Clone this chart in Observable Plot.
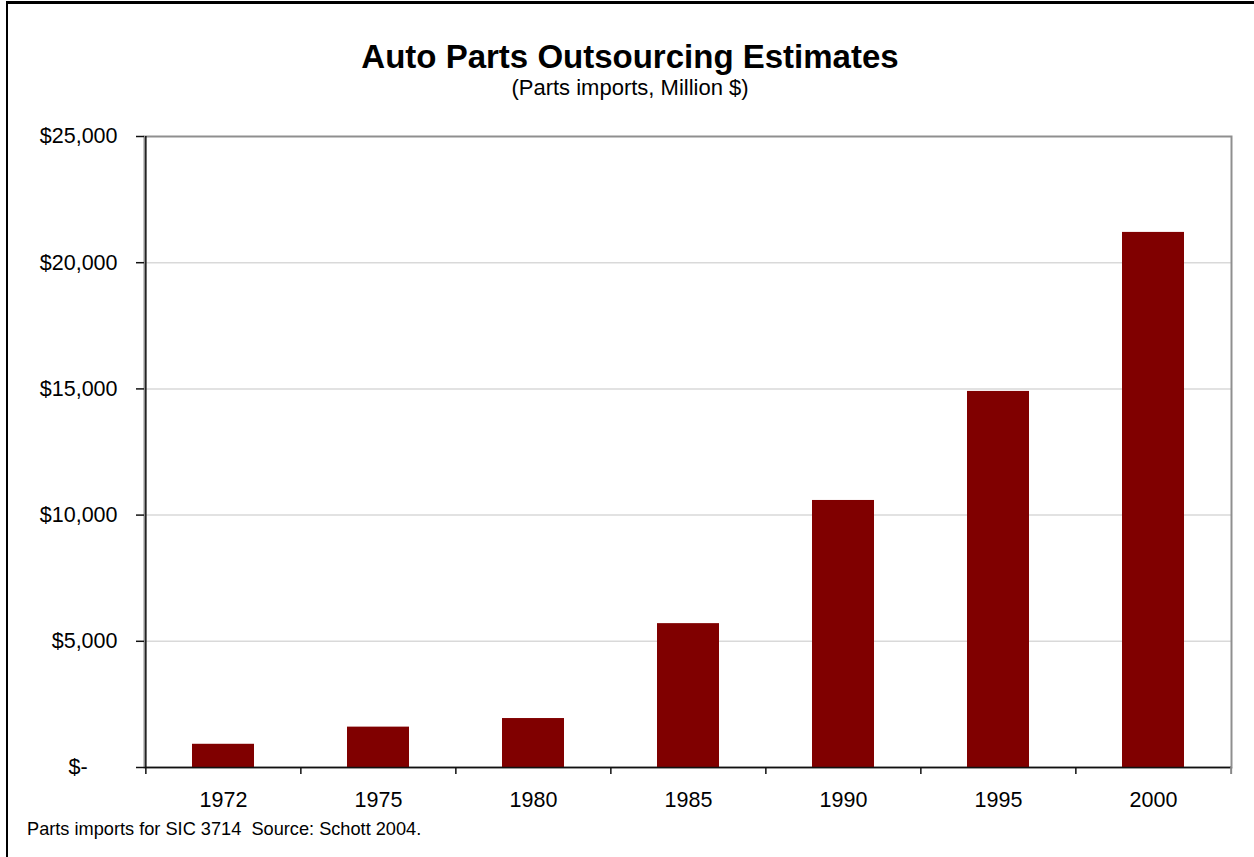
<!DOCTYPE html>
<html>
<head>
<meta charset="utf-8">
<script src="https://cdn.jsdelivr.net/npm/d3@7"></script>
<script src="https://cdn.jsdelivr.net/npm/@observablehq/plot@0.6"></script>
<style>
  html, body { margin: 0; padding: 0; background: #fff; }
  #wrap { position: relative; width: 1254px; height: 857px; overflow: hidden; font-family: "Liberation Sans", Arial, sans-serif; }
  #border { position: absolute; left: 6px; top: 1px; right: -10px; bottom: -10px; border-top: 3px solid #000; border-left: 2px solid #000; }
  .t { position: absolute; left: 0; width: 1260px; text-align: center; color: #000; white-space: pre; }
  #title { top: 40px; font-size: 33px; line-height: 33px; font-weight: bold; }
  #subtitle { top: 77px; font-size: 22px; line-height: 22px; }
  #caption { position: absolute; left: 27px; top: 820px; font-size: 18.2px; line-height: 18px; white-space: pre; color: #000; }
  svg { position: absolute; left: 0; top: 0; }
</style>
</head>
<body>
<div id="wrap">
  <div id="chart"></div>
  <div id="border"></div>
  <div id="title" class="t">Auto Parts Outsourcing Estimates</div>
  <div id="subtitle" class="t">(Parts imports, Million $)</div>
  <div id="caption">Parts imports for SIC 3714  Source: Schott 2004.</div>
</div>
<script>
const years = ["1972", "1975", "1980", "1985", "1990", "1995", "2000"];
const imports = [920, 1600, 1940, 5700, 10580, 14900, 21200];
const yTicks = [0, 5000, 10000, 15000, 20000, 25000];
const gridTicks = [5000, 10000, 15000, 20000];

const data = years.map((year, i) => ({year, value: imports[i]}));

const W = 1254, H = 857, mT = 136, mB = 90, mL = 144, mR = 23;
const plotH = H - mT - mB;
const C = (W - mL - mR) / years.length; // category width

const fmt = d => d === 0 ? "$-\u2007\u2007\u00a0" : "$" + d3.format(",")(d);

const chart = Plot.plot({
  width: W,
  height: H,
  marginTop: mT,
  marginBottom: mB,
  marginLeft: mL,
  marginRight: mR,
  style: {fontFamily: "Liberation Sans, Arial, sans-serif", fontSize: "21.5px", color: "#000", background: "transparent"},
  x: {domain: years, paddingInner: 0.6, paddingOuter: 0.3, label: null},
  y: {domain: [0, 25000], label: null},
  marks: [
    Plot.ruleY(gridTicks, {stroke: "#d9d9d9", strokeWidth: 1.5}),
    Plot.frame({stroke: "#8f8f8f", strokeWidth: 2}),
    Plot.barY(data, {x: "year", y: "value", fill: "#800000"}),
    Plot.ruleY([0], {stroke: "#111", strokeWidth: 1.5}),
    Plot.ruleX([years[0]], {x: d => d, dx: -C / 2, stroke: "#111", strokeWidth: 1.5}),
    Plot.ruleX(years, {x: d => d, dx: -C / 2, insetTop: plotH, insetBottom: -7, stroke: "#111", strokeWidth: 1.5}),
    Plot.ruleX([years[years.length - 1]], {x: d => d, dx: C / 2, insetTop: plotH, insetBottom: -7, stroke: "#888", strokeWidth: 2}),
    Plot.axisY({ticks: yTicks, tickFormat: fmt, tickSize: 8, tickPadding: 19, stroke: "#111", strokeWidth: 1.5, fill: "#000", fontSize: "21.5px", label: null}),
    Plot.axisX({tickSize: 0, tickPadding: 24, fill: "#000", fontSize: "21.5px", label: null})
  ]
});
document.getElementById("chart").appendChild(chart);
</script>
</body>
</html>
